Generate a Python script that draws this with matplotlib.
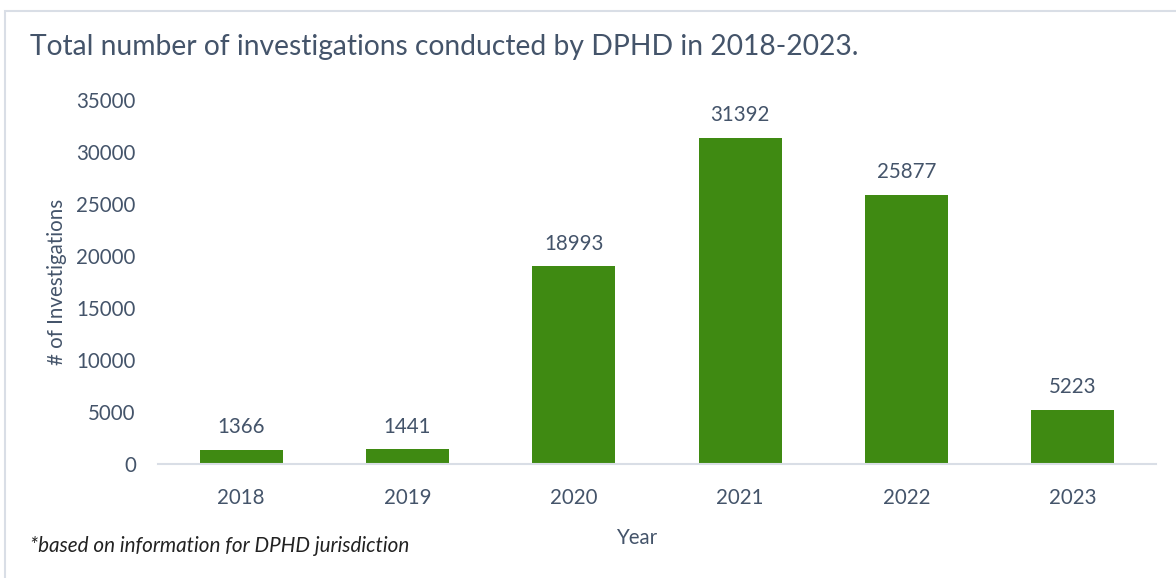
import matplotlib
matplotlib.use("Agg")
import matplotlib.pyplot as plt
from matplotlib.patches import Rectangle

years = ["2018", "2019", "2020", "2021", "2022", "2023"]
investigations = [1366, 1441, 18993, 31392, 25877, 5223]
y_ticks = [0, 5000, 10000, 15000, 20000, 25000, 30000, 35000]

text_color = "#44546A"
bar_color = "#3F8A12"
font = "Lato"

fig = plt.figure(figsize=(11.76, 5.78), dpi=100)
W, H = 1176, 578

# light frame around the chart
fig.patches.append(Rectangle((5 / W, -0.01), 1.2, (572 - 5) / H + 0.01,
                             transform=fig.transFigure, fill=False,
                             edgecolor="#D9DEE6", linewidth=1.5))

ax = fig.add_axes([158 / W, 1 - 464 / H, (1156 - 158) / W, (464 - 100) / H])
x = range(len(years))
bars = ax.bar(x, investigations, width=0.5, color=bar_color)
ax.set_xlim(-0.5, len(years) - 0.5)
ax.set_ylim(0, 35000)
ax.set_yticks(y_ticks)
ax.set_yticklabels([str(v) for v in y_ticks])
ax.set_xticks(list(x))
ax.set_xticklabels(years)
for s in ["top", "right", "left"]:
    ax.spines[s].set_visible(False)
ax.spines["bottom"].set_color("#D9DEE6")
ax.spines["bottom"].set_linewidth(1.5)
ax.tick_params(length=0, colors=text_color, labelsize=14.8)
ax.tick_params(axis="y", pad=16)
ax.tick_params(axis="x", pad=17)
for lbl in ax.get_xticklabels() + ax.get_yticklabels():
    lbl.set_fontfamily(font)

for b, v in zip(bars, investigations):
    ax.annotate(str(v), (b.get_x() + b.get_width() / 2, v),
                xytext=(0, 9), textcoords="offset points",
                ha="center", va="bottom", color=text_color,
                fontsize=14.8, family=font)

fig.text(30 / W, 1 - 47 / H, "Total number of investigations conducted by DPHD in 2018-2023.",
         fontsize=20.3, color=text_color, family=font, va="center", ha="left")
fig.text(57 / W, 1 - 282 / H, "# of Investigations", rotation=90,
         fontsize=14.8, color=text_color, family=font, va="center", ha="center")
fig.text(637 / W, 1 - 538 / H, "Year", fontsize=14.8, color=text_color,
         family=font, va="center", ha="center")
fig.text(30 / W, 1 - 546 / H, "*based on information for DPHD jurisdiction",
         fontsize=14.9, color="#222222", family=font, style="italic",
         va="center", ha="left")

fig.savefig("out.png", dpi=100)
